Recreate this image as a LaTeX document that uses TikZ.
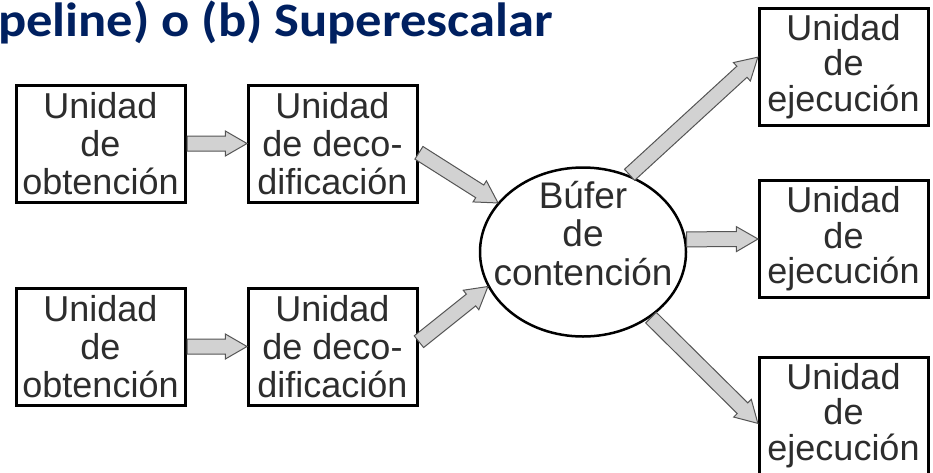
\documentclass[tikz,border=0pt]{standalone}
\usepackage{fontspec}
\setmainfont{Liberation Sans}
\newfontfamily\titlefont{Carlito}
\usetikzlibrary{calc,positioning,shapes.arrows,shapes.geometric}
\definecolor{titleblue}{RGB}{0,32,96}
\definecolor{boxtext}{RGB}{45,45,45}
\definecolor{arrowfill}{RGB}{210,210,210}
\definecolor{arrowline}{RGB}{85,85,85}
\tikzset{
    unidad/.style = {
        draw,
        line width=3pt,
        minimum width=169pt,
        minimum height=117pt,
        inner sep=0pt,
        align=center,
        text=boxtext,
        font=\fontsize{36pt}{38pt}\selectfont,
        },
    ejecucion/.style = {
        unidad,
        font=\fontsize{36pt}{35.5pt}\selectfont,
        },
    buffer/.style = {
        draw,
        ellipse,
        line width=2.5pt,
        minimum width=206pt,
        minimum height=169pt,
        inner xsep=-25pt,
        inner ysep=-20pt,
        text depth=38pt,
        align=center,
        text=boxtext,
        font=\fontsize{37pt}{38.5pt}\selectfont,
        },
    flecha/.style = {
        to path={
            let \p1=($(\tikztotarget)-(\tikztostart)$),
                \n1={veclen(\x1,\y1)}, \n2={atan2(\y1,\x1)}
            in node[single arrow, draw=arrowline, fill=arrowfill, line width=1pt,
                    inner sep=7pt, single arrow head extend=5pt,
                    single arrow tip angle=60, minimum height=\n1,
                    anchor=tail, rotate=\n2] at (\tikztostart) {}
            },
        },
}
\begin{document}
\begin{tikzpicture}[x=1pt, y=-1pt]
    \useasboundingbox (0,0) rectangle (933,472);

    \node[font=\titlefont\bfseries\fontsize{48pt}{48pt}\selectfont, text=titleblue, xscale=1.095,
          anchor=base east, inner sep=0pt] (titulo) at (553,36) {peline) o (b) Superescalar};

    % two fetch/decode pipelines
    \node[unidad] (obt1) at (100.5,143.5) {Unidad\\de\\obtención};
    \node[unidad, right=60pt of obt1] (dec1) {Unidad\\de deco-\\dificación};
    \node[unidad, below=83pt of obt1] (obt2) {Unidad\\de\\obtención};
    \node[unidad, right=60pt of obt2] (dec2) {Unidad\\de deco-\\dificación};

    \node[buffer] (buf) at (583,252) {Búfer\\de\\contención};

    \node[ejecucion] (ej1) at (843.5,66.5) {Unidad\\de\\ejecución};
    \node[ejecucion] (ej2) at (843.5,239) {Unidad\\de\\ejecución};
    \node[ejecucion] (ej3) at (843.5,415.5) {Unidad\\de\\ejecución};

    \path (obt1.east) edge[flecha] (dec1.west);
    \path (obt2.east) edge[flecha] (dec2.west);
    \path (dec1.-6) edge[flecha] (buf.150);
    \path (dec2.3) edge[flecha] (buf.200);
    % buffer to execution units
    \path (buf.59) edge[flecha] (ej1.174);
    \path (buf.7) edge[flecha] (ej2.west);
    \path (buf.-44) edge[flecha] (ej3.185);
\end{tikzpicture}
\end{document}
